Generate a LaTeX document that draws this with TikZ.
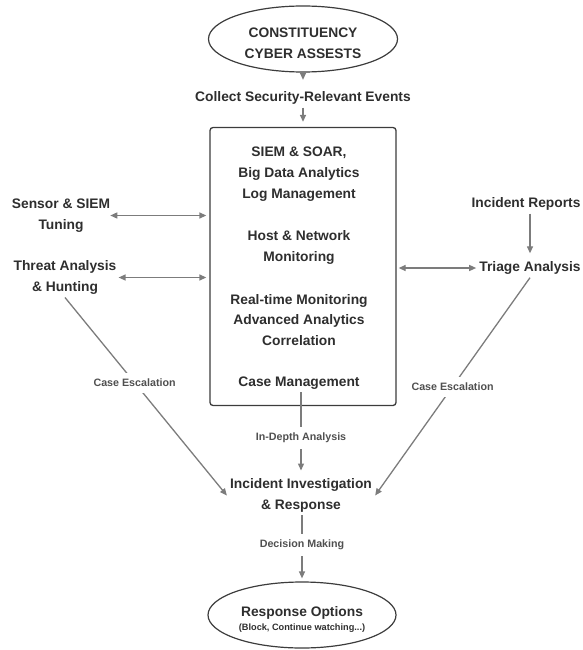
\documentclass[tikz,border=0pt]{standalone}
\usepackage{fontspec}
\setmainfont{Liberation Sans}
\usetikzlibrary{arrows.meta,shapes.geometric}
\definecolor{ink}{HTML}{2E2E2E}
\definecolor{note}{HTML}{505050}
\definecolor{wire}{HTML}{7C7C7C}
\definecolor{frame}{HTML}{3C3C3C}

\begin{document}
\begin{tikzpicture}[x=1pt,y=-1pt,
  txt/.style={text=ink,font=\bfseries\fontsize{13.8}{20.7}\selectfont,align=center,inner sep=3pt},
  lbl/.style={text=note,font=\bfseries\fontsize{10.7}{12}\selectfont,fill=white,inner xsep=2pt,inner ysep=6pt},
  oval/.style={ellipse,draw=frame,line width=1.2pt,inner sep=0pt},
  tip/.tip={Triangle[length=7pt,width=6pt]},
  link/.style={draw=wire,line width=1.3pt,-tip},
  both/.style={draw=wire,line width=1.3pt,tip-tip}
]
\useasboundingbox (0,0) rectangle (582,650);

% source of events
\node[oval,minimum width=189pt,minimum height=66pt] (assets) at (303,39) {};
\node[txt] (assetstxt) at (303,43) {CONSTITUENCY\\CYBER ASSESTS};
\node[txt] (collect) at (303,98) {Collect Security-Relevant Events};

% central platform
\node[draw=frame,line width=1.3pt,rounded corners=3pt,minimum width=186pt,minimum height=278pt,inner sep=0pt] (hub) at (303,266.5) {};
\node[txt] (siem) at (299,174) {SIEM \& SOAR,\\Big Data Analytics\\Log Management};
\node[txt] (host) at (299,247.5) {Host \& Network\\Monitoring};
\node[txt] (rt) at (299,320) {Real-time Monitoring\\Advanced Analytics\\Correlation};
\node[txt] (case) at (299,383) {Case Management};

% side activities
\node[txt] (sensor) at (61,215.5) {Sensor \& SIEM\\Tuning};
\node[txt] (threat) at (65,277.5) {Threat Analysis\\\& Hunting};
\node[txt,inner xsep=1pt] (reports) at (526,204) {Incident Reports};
\node[txt] (triage) at (530,268) {Triage Analysis};

% investigation and response
\node[txt] (incident) at (301,495.5) {Incident Investigation\\\& Response};
\node[oval,minimum width=188pt,minimum height=66pt] (resp) at (302,615) {};
\node[txt] (resptxt) at (302,619.5) {Response Options\\[-6.4pt]{\fontsize{9.2}{11}\selectfont(Block, Continue watching...)}};

% connectors
\draw[link,shorten >=8.5pt] (assets.south) -- (collect.north);
\draw[link,shorten >=5pt] (collect.south) -- (hub.north);
\draw[both,shorten >=3pt,shorten <=-3pt] (sensor) -- (sensor -| hub.west);
\draw[both,shorten >=3pt,shorten <=-1pt] (threat) -- (threat -| hub.west);
\draw[both,shorten <=2pt] (hub.east |- triage) -- (triage);
\draw[link,shorten >=5pt] (reports.south -| triage.north) -- (triage.north);
\draw[link] (threat.south) -- node[lbl,pos=0.43] {Case Escalation} (incident.west);
\draw[link] (triage.south) -- node[lbl,pos=0.5] {Case Escalation} (incident.east);
\draw[link,shorten >=5pt] (case.south -| incident.north) -- node[lbl,pos=0.55] {In-Depth Analysis} (incident.north);
\draw[link,shorten >=3pt] (incident.south -| resp.north) -- node[lbl,pos=0.45] {Decision Making} (resp.north);
\end{tikzpicture}
\end{document}
